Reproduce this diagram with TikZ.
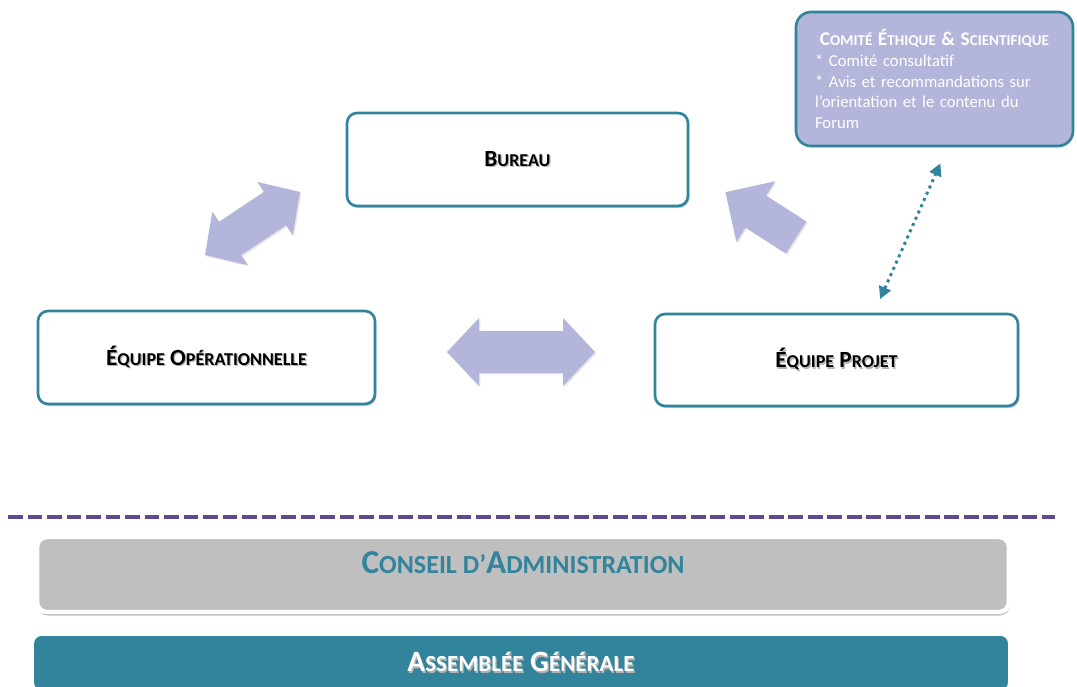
\documentclass[tikz,border=0pt]{standalone}
\usepackage{fontspec}
\setmainfont{Carlito}
\usepackage{graphicx}
\usetikzlibrary{calc,shadows,arrows.meta}
\definecolor{petrol}{HTML}{31849B}
\definecolor{lavande}{HTML}{B4B5DA}
\definecolor{sepviolet}{HTML}{5F4A8B}
\definecolor{gris}{HTML}{BFBFBF}
\newcommand{\petit}[1]{\scalebox{0.78}{#1}}
\newcommand{\ombre}[1]{\makebox[0pt][l]{\hspace{0.7pt}\raisebox{-0.8pt}{\color{black!30}#1}}#1}
\tikzstyle{unitbox} = [draw=petrol, line width=1.5pt, fill=white, rounded corners=0.2cm, drop shadow={shadow xshift=0.8pt, shadow yshift=-1.2pt, opacity=0.4}, font=\fontsize{13.2}{15}\selectfont\bfseries]
\tikzstyle{bigarrow} = [fill=lavande, drop shadow={shadow xshift=0.8pt, shadow yshift=-0.8pt, opacity=0.2}]
\tikzstyle{dotconnector} = [petrol, line width=1.7pt, dash pattern=on 1.7pt off 2.2pt, {Triangle[length=7pt,width=7pt]}-{Triangle[length=7pt,width=7pt]}, shorten <=8.5pt, shorten >=10pt]
\tikzstyle{separator} = [sepviolet, line width=2.3pt, dash pattern=on 8.5pt off 2.6pt]

\begin{document}
\begin{tikzpicture}[x=0.02cm, y=-0.02cm]
    \useasboundingbox (0,0) rectangle (1077,686);
    \clip (0,0) rectangle (1077,686);

    \node (bureau) [unitbox, minimum width=6.82cm, minimum height=1.86cm] at (517.5,159.5) {\ombre{B\petit{UREAU}}};
    \node (operation) [unitbox, minimum width=6.74cm, minimum height=1.86cm] at (206.5,357.5) {\ombre{É\petit{QUIPE} O\petit{PÉRATIONNELLE}}};
    \node (projet) [unitbox, minimum width=7.26cm, minimum height=1.84cm] at (836.5,360) {\ombre{É\petit{QUIPE} P\petit{ROJET}}};
    \node (comite) [draw=petrol, line width=1.5pt, fill=lavande, rounded corners=0.3cm, minimum width=5.54cm, minimum height=2.68cm, text width=4.78cm, align=left, text=white, font=\fontsize{9.5}{11.9}\selectfont, drop shadow={shadow xshift=0.6pt, shadow yshift=-0.8pt, opacity=0.25}] at (934.5,79)
        {\makebox[\hsize]{\fontsize{11}{11.9}\selectfont\bfseries C\petit{OMITÉ} É\petit{THIQUE} \& S\petit{CIENTIFIQUE}}\\
         {*} Comité consultatif\\
         {*} Avis et recommandations sur\\
         l’orientation et le contenu du\\
         Forum};

    \begin{scope}[shift={(252.5,223.5)}, rotate=33.6]
        \fill [bigarrow] (-57,0) -- (-27,32) -- (-27,20) -- (27,20) -- (27,32) -- (57,0) -- (27,-32) -- (27,-20) -- (-27,-20) -- (-27,-32) -- cycle;
    \end{scope}
    \begin{scope}[shift={(760.8,214.8)}, rotate=147.4]
        \fill [bigarrow] (-42,19) -- (6,19) -- (6,36) -- (42,0) -- (6,-36) -- (6,-19) -- (-42,-19) -- cycle;
    \end{scope}
    \fill [bigarrow] (447,352) -- (479,318) -- (479,331) -- (563,331) -- (563,318) -- (595,352) -- (563,386) -- (563,373) -- (479,373) -- (479,386) -- cycle;

    \draw [dotconnector] ([xshift=0.75cm]projet.north) -- ([xshift=0.26cm]comite.south);

    \draw [separator] (8,517) -- (1055,517);

    \node (conseil) [draw=white, line width=2.5pt, fill=gris, rounded corners=0.2cm, minimum width=19.44cm, minimum height=1.5cm, drop shadow={shadow xshift=0.5pt, shadow yshift=-2pt, opacity=0.5}] at (523,574.5) {};
    \node (conseiltxt) [text=petrol, font=\fontsize{19}{21}\selectfont\bfseries] at (523,563) {C\petit{ONSEIL D’}A\petit{DMINISTRATION}};
    \node (assemblee) [fill=petrol, rounded corners=0.15cm, minimum width=19.48cm, minimum height=1.08cm, text=white, font=\fontsize{16.8}{19}\selectfont\bfseries] at (521,663) {\ombre{A\petit{SSEMBLÉE} G\petit{ÉNÉRALE}}};
\end{tikzpicture}
\end{document}
